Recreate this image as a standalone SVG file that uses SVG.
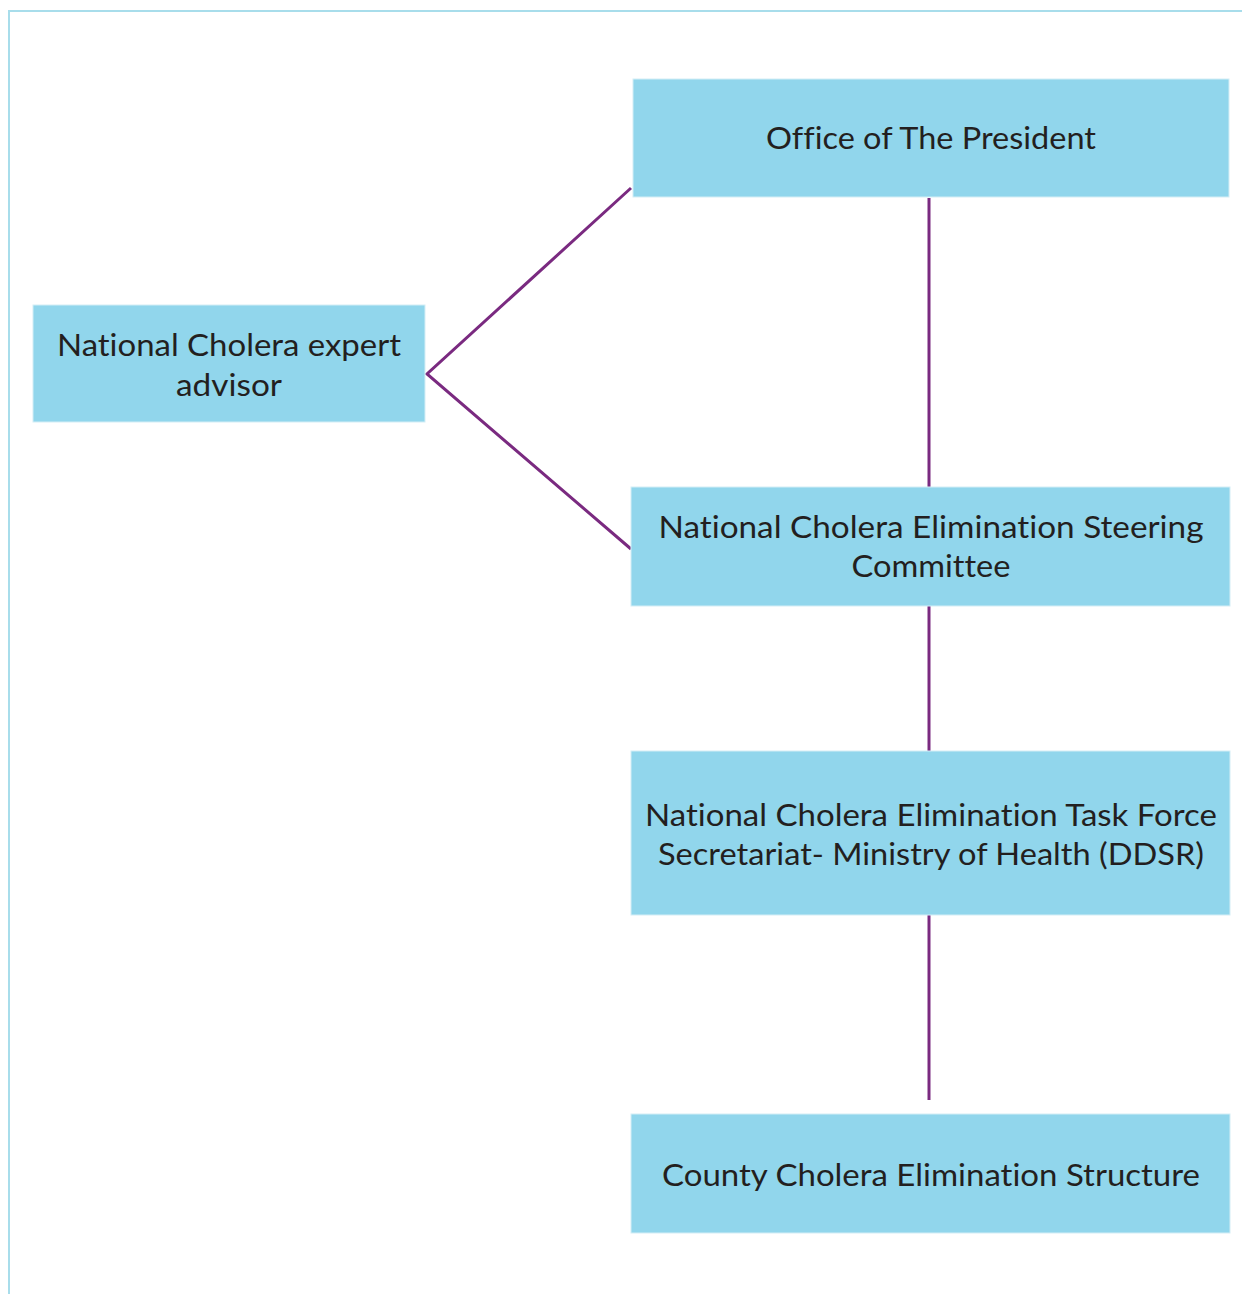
<svg xmlns="http://www.w3.org/2000/svg" width="1242" height="1294" viewBox="0 0 1242 1294">
  <style>
    .box { fill: #91D6EC; stroke: #D4EEF6; stroke-width: 1; }
    .lbl { font-family: Lato, "Open Sans", "Liberation Sans", sans-serif; font-size: 31px; font-weight: 400; font-variant-ligatures: none; fill: #231F20; text-anchor: middle; }
    .link { stroke: #7A2A80; stroke-width: 3; fill: none; }
    .frame { stroke: #A8DDEB; stroke-width: 2; fill: none; }
  </style>
  <rect width="1242" height="1294" fill="#ffffff"/>
  <!-- page frame -->
  <polyline class="frame" points="9,1294 9,11 1242,11"/>

  <g id="connectors">
    <polyline class="link" points="631,188 427,374 631,549"/>
    <line class="link" x1="929" y1="198" x2="929" y2="487"/>
    <line class="link" x1="929" y1="606" x2="929" y2="751"/>
    <line class="link" x1="929" y1="915" x2="929" y2="1100"/>
  </g>

  <g id="office-president">
    <rect class="box" x="633" y="79" width="596" height="118"/>
    <text class="lbl" x="931" y="149" textLength="330" lengthAdjust="spacingAndGlyphs">Office of The President</text>
  </g>

  <g id="expert-advisor">
    <rect class="box" x="33" y="305" width="392" height="117"/>
    <text class="lbl" x="229" y="356" textLength="344" lengthAdjust="spacingAndGlyphs">National Cholera expert</text>
    <text class="lbl" x="229" y="396" textLength="106" lengthAdjust="spacingAndGlyphs">advisor</text>
  </g>

  <g id="steering-committee">
    <rect class="box" x="631" y="487" width="599" height="119"/>
    <text class="lbl" x="931" y="538" textLength="545" lengthAdjust="spacingAndGlyphs">National Cholera Elimination Steering</text>
    <text class="lbl" x="931" y="577" textLength="159" lengthAdjust="spacingAndGlyphs">Committee</text>
  </g>

  <g id="task-force">
    <rect class="box" x="631" y="751" width="599" height="164"/>
    <text class="lbl" x="931" y="826" textLength="572" lengthAdjust="spacingAndGlyphs">National Cholera Elimination Task Force</text>
    <text class="lbl" x="931" y="865" textLength="546" lengthAdjust="spacingAndGlyphs">Secretariat- Ministry of Health (DDSR)</text>
  </g>

  <g id="county-structure">
    <rect class="box" x="631" y="1114" width="599" height="119"/>
    <text class="lbl" x="931" y="1186" textLength="538" lengthAdjust="spacingAndGlyphs">County Cholera Elimination Structure</text>
  </g>
</svg>
